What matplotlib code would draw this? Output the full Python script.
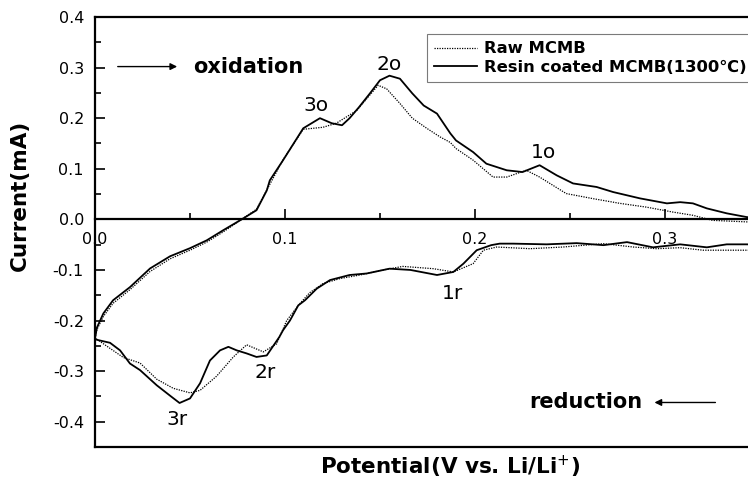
import matplotlib
matplotlib.use("Agg")
import matplotlib.pyplot as plt
import numpy as np

plt.rcParams["font.family"] = ["DejaVu Sans"]
plt.rcParams["axes.unicode_minus"] = False

# Raw MCMB (dotted): anodic sweep 0 -> 0.35 V, then cathodic sweep back
raw_ox_v = [0.000, 0.001, 0.0044, 0.0095, 0.0184, 0.029, 0.0395, 0.050, 0.0588, 0.0674,
            0.0772, 0.085, 0.0904, 0.099, 0.1096, 0.120, 0.127, 0.1377, 0.149, 0.1535,
            0.1605, 0.167, 0.1746, 0.1816, 0.187, 0.190, 0.199, 0.2095, 0.2167, 0.227,
            0.234, 0.248, 0.262, 0.2763, 0.290, 0.304, 0.3147, 0.325, 0.343, 0.350]
raw_ox_i = [-0.235, -0.218, -0.192, -0.166, -0.139, -0.103, -0.078, -0.061, -0.045, -0.025,
            0.000, 0.020, 0.058, 0.118, 0.178, 0.182, 0.190, 0.215, 0.265, 0.258,
            0.229, 0.200, 0.180, 0.163, 0.152, 0.140, 0.117, 0.0836, 0.0836, 0.097,
            0.0836, 0.051, 0.041, 0.0316, 0.0243, 0.0145, 0.008, -0.002, -0.005, -0.006]
raw_red_v = [0.350, 0.343, 0.3325, 0.320, 0.308, 0.2956, 0.2833, 0.2676, 0.2463, 0.229,
             0.2114, 0.2044, 0.199, 0.1886, 0.178, 0.162, 0.1517, 0.1395, 0.129, 0.120,
             0.113, 0.107, 0.1009, 0.0956, 0.0886, 0.0798, 0.0728, 0.064, 0.0553, 0.050,
             0.0412, 0.0325, 0.0237, 0.0149, 0.0079, 0.001, 0.000]
raw_red_i = [-0.061, -0.061, -0.061, -0.061, -0.056, -0.058, -0.0547, -0.048, -0.0547, -0.058,
             -0.0547, -0.061, -0.0876, -0.104, -0.0975, -0.093, -0.100, -0.110, -0.117, -0.127,
             -0.145, -0.170, -0.200, -0.246, -0.262, -0.248, -0.272, -0.310, -0.338, -0.343,
             -0.334, -0.316, -0.284, -0.273, -0.255, -0.237, -0.235]

# Resin coated MCMB, 1300 C (solid)
coat_ox_v = [0.000, 0.001, 0.0044, 0.0095, 0.0184, 0.029, 0.0395, 0.050, 0.0588, 0.0674,
             0.0772, 0.085, 0.0904, 0.092, 0.099, 0.1096, 0.1184, 0.1246, 0.130, 0.134,
             0.139, 0.1447, 0.150, 0.155, 0.1605, 0.167, 0.173, 0.180, 0.187, 0.190,
             0.199, 0.206, 0.2167, 0.225, 0.234, 0.243, 0.2516, 0.264, 0.2727, 0.2868,
             0.301, 0.308, 0.3147, 0.322, 0.3325, 0.343, 0.350]
coat_ox_i = [-0.235, -0.214, -0.186, -0.160, -0.134, -0.097, -0.073, -0.057, -0.0415, -0.0217,
             0.000, 0.018, 0.057, 0.077, 0.117, 0.180, 0.200, 0.190, 0.186, 0.200,
             0.222, 0.249, 0.275, 0.284, 0.278, 0.249, 0.225, 0.209, 0.170, 0.156,
             0.133, 0.110, 0.097, 0.0935, 0.107, 0.087, 0.071, 0.064, 0.054, 0.0415,
             0.0316, 0.034, 0.0316, 0.0217, 0.0119, 0.0045, 0.002]
coat_red_v = [0.350, 0.343, 0.3325, 0.322, 0.308, 0.2937, 0.280, 0.2676, 0.2535, 0.2377,
              0.220, 0.213, 0.2085, 0.2009, 0.1939, 0.1886, 0.180, 0.166, 0.155, 0.143,
              0.134, 0.1237, 0.1167, 0.1105, 0.107, 0.1026, 0.099, 0.097, 0.0904, 0.085,
              0.0798, 0.0746, 0.0702, 0.0658, 0.0605, 0.0553, 0.050, 0.0445, 0.040, 0.0325,
              0.0237, 0.0184, 0.0132, 0.0079, 0.0009, 0.000]
coat_red_i = [-0.050, -0.0494, -0.0494, -0.0553, -0.0494, -0.0553, -0.045, -0.051, -0.047, -0.0494,
              -0.048, -0.048, -0.051, -0.061, -0.0876, -0.104, -0.110, -0.100, -0.0975, -0.107,
              -0.110, -0.120, -0.137, -0.160, -0.170, -0.200, -0.219, -0.2326, -0.269, -0.272,
              -0.265, -0.259, -0.252, -0.259, -0.279, -0.324, -0.354, -0.363, -0.350, -0.328,
              -0.298, -0.285, -0.259, -0.244, -0.238, -0.235]

peak_labels = ["3o", "2o", "1o", "3r", "2r", "1r"]
peak_v = [0.1162, 0.155, 0.236, 0.0433, 0.0898, 0.188]
peak_i = [0.225, 0.306, 0.132, -0.395, -0.303, -0.146]

x_ticks = [0.0, 0.1, 0.2, 0.3]
y_ticks = [-0.4, -0.3, -0.2, -0.1, 0.0, 0.1, 0.2, 0.3, 0.4]

fig = plt.figure(figsize=(7.48, 4.84), dpi=100)
ax = fig.add_axes([95 / 748, 37 / 484, 665 / 748, 430 / 484])

ax.plot(raw_ox_v + raw_red_v, raw_ox_i + raw_red_i, color="k", lw=0.9,
        linestyle=(0, (1, 1)), label="Raw MCMB")
ax.plot(coat_ox_v + coat_red_v, coat_ox_i + coat_red_i, color="k", lw=1.3,
        label="Resin coated MCMB(1300\u2103)")

ax.set_xlim(0, 0.35)
ax.set_ylim(-0.45, 0.4)

# x axis runs along zero current, plain frame line at the bottom
ax.spines["bottom"].set_position(("data", 0))
ax.spines["right"].set_visible(False)
ax.axhline(-0.45, color="k", lw=1.6, clip_on=False)
for s in ["left", "top", "bottom"]:
    ax.spines[s].set_linewidth(1.6)

ax.set_xticks(x_ticks)
ax.set_xticks([0.05, 0.15, 0.25, 0.35], minor=True)
ax.set_yticks(y_ticks)
ax.set_yticks([-0.35, -0.25, -0.15, -0.05, 0.05, 0.15, 0.25, 0.35], minor=True)
ax.set_xticklabels([f"{t:.1f}" for t in x_ticks])
ax.set_yticklabels([f"{t:.1f}" for t in y_ticks])
ax.tick_params(which="both", direction="in", width=1.2, labelsize=11.5)
ax.tick_params(which="major", length=7)
ax.tick_params(which="minor", length=4)
ax.tick_params(axis="x", pad=9)
ax.tick_params(axis="y", pad=8)

for lab, v, i in zip(peak_labels, peak_v, peak_i):
    ax.text(v, i, lab, fontsize=14.5, ha="center", va="center")

ax.annotate("", xy=(0.0447, 0.302), xytext=(0.0105, 0.302),
            arrowprops=dict(arrowstyle="-|>", color="k", lw=1.0, mutation_scale=10))
ax.text(0.0516, 0.302, "oxidation", fontsize=15, fontweight="bold", va="center", ha="left")
ax.annotate("", xy=(0.293, -0.362), xytext=(0.328, -0.362),
            arrowprops=dict(arrowstyle="-|>", color="k", lw=1.0, mutation_scale=10))
ax.text(0.288, -0.362, "reduction", fontsize=15, fontweight="bold", va="center", ha="right")

# legend box runs off the right edge of the figure
leg = ax.legend(loc="upper left", bbox_to_anchor=(427 / 748, 1 - 34 / 484),
                bbox_transform=fig.transFigure, fancybox=False, frameon=True,
                edgecolor="0.35", borderaxespad=0, handlelength=2.6, handletextpad=0.4,
                borderpad=0.45, labelspacing=0.2, prop={"weight": "bold", "size": 11.8})
leg.get_frame().set_linewidth(0.8)

fig.text(20 / 748, 1 - 195 / 484, "Current(mA)", rotation=90, fontsize=15.5,
         fontweight="bold", ha="center", va="center")
fig.text(450 / 748, 1 - 467 / 484, "Potential(V vs. Li/Li$^{+}$)", fontsize=15.5,
         fontweight="bold", ha="center", va="center")

fig.savefig("out.png", dpi=100)
